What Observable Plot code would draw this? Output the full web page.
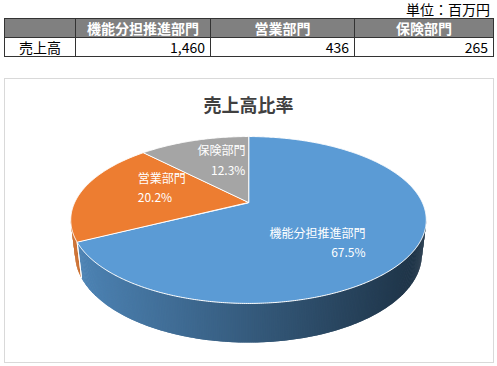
<!DOCTYPE html>
<html><head><meta charset="utf-8">
<script src="https://cdn.jsdelivr.net/npm/d3@7"></script>
<script src="https://cdn.jsdelivr.net/npm/@observablehq/plot@0.6"></script>
<style>
body{margin:0;width:497px;height:366px;position:relative;overflow:hidden;background:#fff;font-family:"Noto Sans CJK JP","Noto Sans",sans-serif;}
#unit{position:absolute;right:7px;top:0;font-size:14px;line-height:18px;color:#000;}
table{position:absolute;left:4px;top:18px;border-collapse:collapse;font-size:14px;table-layout:fixed;}
td,th{border:1px solid #333;height:18px;padding:0 5px;line-height:18px;white-space:nowrap;}
th{background:#808080;color:#fff;font-weight:bold;text-align:center;}
td.num{text-align:right;}
td.lab{text-align:center;}
#box{position:absolute;left:4px;top:78px;width:490px;height:285px;border:1px solid #d9d9d9;box-sizing:border-box;}
#title{position:absolute;top:92px;left:0;width:497px;text-align:center;font-size:18px;line-height:24px;font-weight:bold;color:#404040;}
#chart{position:absolute;left:0;top:0;pointer-events:none;}
</style></head>
<body>
<div id="unit"></div>
<table id="tbl"></table>
<div id="box"></div>
<div id="title"></div>
<div id="chart"></div>
<script>
// ---- data ----
const categories = ["機能分担推進部門", "営業部門", "保険部門"];
const sales = [1460, 436, 265];
const shares = ["67.5%", "20.2%", "12.3%"];
const rowLabel = "売上高";
const unitLabel = "単位：百万円";
const chartTitle = "売上高比率";
const palette = ["#5b9bd5", "#ed7d31", "#a5a5a5"];

// ---- table ----
document.getElementById("unit").textContent = unitLabel;
document.getElementById("title").textContent = chartTitle;
const colW = [71, 135, 144, 139];
const tbl = d3.select("#tbl");
const cg = tbl.append("colgroup");
colW.forEach(w => cg.append("col").style("width", w + "px"));
const hr = tbl.append("tr");
hr.append("th").text("");
categories.forEach(c => hr.append("th").text(c));
const br = tbl.append("tr");
br.append("td").attr("class", "lab").text(rowLabel);
sales.forEach(v => br.append("td").attr("class", "num").text(d3.format(",")(v)));

// ---- 3D pie geometry (perspective) ----
const W = 497, H = 366, cx = 248, cy = 202, F = 737, D = 4.24;
const sE = 0.459, cE = Math.sqrt(1 - sE * sE), depth = 0.222;
function proj(theta, r, hh) {
  const X = r * Math.sin(theta), Z = r * Math.cos(theta);
  const yc = Z * sE + hh * cE, zc = D + Z * cE - hh * sE;
  return {u: X / zc, v: yc / zc};
}
const arcs = d3.pie().sort(null)(sales);
const step = Math.PI / 360;

const topPts = [];
arcs.forEach((a, i) => {
  topPts.push({k: i, c: palette[i], ...proj(0, 0, 0)});
  const n = Math.ceil((a.endAngle - a.startAngle) / step);
  for (let j = 0; j <= n; j++) {
    const t = a.startAngle + (a.endAngle - a.startAngle) * j / n;
    topPts.push({k: i, c: palette[i], ...proj(t, 1, 0)});
  }
});

const visLo = Math.acos(-cE / D), visHi = 2 * Math.PI - visLo;
const sidePts = [];
const edges = [];
let sid = 0;
arcs.forEach((a, i) => {
  const lo = Math.max(a.startAngle, visLo), hi = Math.min(a.endAngle, visHi);
  if (lo >= hi) return;
  const n = Math.max(1, Math.ceil((hi - lo) / step));
  const base = d3.rgb(palette[i]);
  for (let j = 0; j < n; j++) {
    const t1 = lo + (hi - lo) * j / n;
    const t2 = Math.min(hi, lo + (hi - lo) * (j + 2) / n);
    const m = proj(lo + (hi - lo) * (j + 0.5) / n, 1, 0);
    const sx = cx + F * m.u;
    const tt = Math.max(0, Math.min(1, (sx - 72) / 355));
    const f = 0.85 - 0.53 * tt;
    const col = d3.rgb(base.r * f, base.g * f, base.b * f).formatHex();
    const pts = [proj(t1, 1, 0), proj(t2, 1, 0), proj(t2, 1, -depth), proj(t1, 1, -depth), proj(t1, 1, 0)];
    pts.forEach(p => sidePts.push({s: sid, c: col, ...p}));
    sid++;
  }
  [a.startAngle, a.endAngle].forEach(t => {
    if (t > visLo && t < visHi) {
      const p1 = proj(t, 1, 0), p2 = proj(t, 1, -depth);
      edges.push({u1: p1.u, v1: p1.v, u2: p2.u, v2: p2.v});
    }
  });
});

const labelInfo = arcs.map((a, i) => ({
  text: categories[i] + "\n" + shares[i],
  ...proj((a.startAngle + a.endAngle) / 2, 0.6, 0)
}));
const labelStyle = [
  {textAnchor: "end", dx: 22, dy: 12},
  {textAnchor: "start", dx: -10, dy: -8},
  {textAnchor: "end", dx: 32, dy: -4}
];
const labelMarks = labelInfo.map((d, i) => Plot.text([d], {
  x: "u", y: "v", text: "text", fill: "white", fontSize: 12, lineHeight: 1.6,
  fontFamily: "Noto Sans CJK JP, Noto Sans, sans-serif",
  ...labelStyle[i]
}));

const chart = Plot.plot({
  width: W, height: H, margin: 0,
  style: {background: "transparent", overflow: "visible"},
  x: {domain: [-cx / F, (W - cx) / F], axis: null},
  y: {domain: [-(H - cy) / F, cy / F], axis: null},
  color: {type: "identity"},
  marks: [
    Plot.line(sidePts, {x: "u", y: "v", z: "s", fill: "c", stroke: "none", curve: "linear"}),
    Plot.link(edges, {x1: "u1", y1: "v1", x2: "u2", y2: "v2", stroke: "white", strokeWidth: 1}),
    Plot.line(topPts, {x: "u", y: "v", z: "k", fill: "c", stroke: "white", strokeWidth: 1, curve: "linear-closed"}),
    ...labelMarks
  ]
});
document.getElementById("chart").appendChild(chart);
</script>
</body></html>
